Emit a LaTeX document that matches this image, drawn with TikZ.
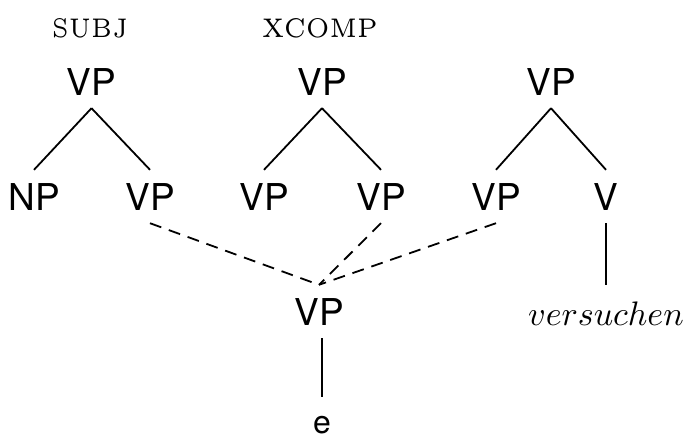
\documentclass[tikz,border=0pt]{standalone}
\usepackage{graphicx}
\usepackage{fontspec}
\newfontfamily\hel{TeX Gyre Heros}
\begin{document}
\begin{tikzpicture}[x=1pt,y=-1pt,
  cat/.style={font=\hel\fontsize{37}{40}\selectfont, inner sep=13pt, anchor=base, text height=27pt, text depth=0pt},
  feat/.style={font=\fontsize{5}{6}\selectfont, anchor=base, inner sep=0pt},
  lex/.style={font=\fontsize{10}{12}\selectfont, scale=3.4, inner sep=3.8pt, anchor=base, text height=7.9pt, text depth=0pt},
  branch/.style={line width=1.8pt},
  dashline/.style={line width=1.8pt, dash pattern=on 12pt off 8pt}]
\useasboundingbox (0,0) rectangle (689,440);
% features
\node[feat] (subj) at (90,37) {\resizebox{76pt}{19pt}{SUBJ}};
\node[feat] (xcomp) at (320,37) {\resizebox{116pt}{19pt}{XCOMP}};
% top nodes
\node[cat] (t1) at (91.5,95) {VP};
\node[cat] (t2) at (322,95) {VP};
\node[cat] (t3) at (551,95) {VP};
% children
\node[cat] (np) at (34,210) {NP};
\node[cat] (c1) at (150,210) {VP};
\node[cat] (c2) at (264,210) {VP};
\node[cat] (c3) at (381,210) {VP};
\node[cat] (c4) at (496,210) {VP};
\node[cat] (v) at (606,210) {V};
% bottom
\node[cat] (b) at (319,325) {VP};
\node[cat, font=\hel\fontsize{32}{36}\selectfont, inner sep=1.5pt, text height=20pt] (e) at (322,433) {e};
\node[lex] (vers) at (606,325) {$versuchen$};
% branches
\draw[branch] (t1.south) -- (np.north);
\draw[branch] (t1.south) -- (c1.north);
\draw[branch] (t2.south) -- (c2.north);
\draw[branch] (t2.south) -- (c3.north);
\draw[branch] (t3.south) -- (c4.north);
\draw[branch] (t3.south) -- (v.north);
\draw[branch, shorten >=14pt] (b.south -| e.north) -- (e.north);
\draw[branch] (v.south) -- (v.south |- vers.north);
% dashed
\draw[dashline] (c1.south) -- (b.north);
\draw[dashline] (c3.south) -- (b.north);
\draw[dashline] (c4.south) -- (b.north);
\end{tikzpicture}
\end{document}
